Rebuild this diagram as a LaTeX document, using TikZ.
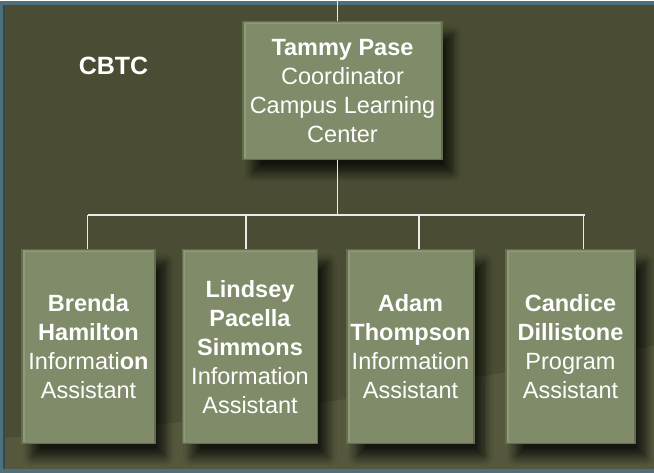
\documentclass[tikz,border=0pt]{standalone}
\usepackage{fontspec}
\setmainfont{Liberation Sans}
\usetikzlibrary{shadows.blur}

\definecolor{frame}{HTML}{4F6F7B}
\definecolor{olive}{HTML}{4A4D33}
\definecolor{olivelow}{HTML}{55583D}
\definecolor{sage}{HTML}{7F8B69}
\definecolor{sageedge}{HTML}{636E4D}
\definecolor{sagelight}{HTML}{909B7A}

\begin{document}
\begin{tikzpicture}[x=1pt, y=1pt,
    card/.style={draw=sageedge, line width=1.2pt, fill=sage, text=white, align=center, inner sep=2pt,
      font=\fontsize{23.5}{29}\selectfont,
      blur shadow={shadow xshift=10pt, shadow yshift=-13pt, shadow blur steps=10, shadow blur radius=9pt, shadow opacity=75},
      path picture={\draw[sagelight, line width=1.4pt] ([shift={(2pt,2pt)}]path picture bounding box.south west) |- ([shift={(-2pt,-2pt)}]path picture bounding box.north east);}},
    wire/.style={draw=white!92!black, line width=1.6pt}]
    % background
    \fill[frame] (0,0) rectangle (654,472);
    \fill[frame!65!black] (3,4) rectangle (5,468);
    \fill[olive] (5,4) rectangle (654,468);
    \fill[olivelow] (5,4) -- (5,35) .. controls (200,45) and (450,90) .. (654,127) -- (654,4) -- cycle;
    % boxes
    \node[font=\bfseries\fontsize{25}{30}\selectfont, text=white] (cbtc) at (113.5,406.5) {CBTC};
    \node[card, minimum width=199pt, minimum height=138pt] (tammy) at (342.5,382) {\textbf{Tammy Pase}\\Coordinator\\Campus Learning\\Center};
    \node[card, minimum width=133pt, minimum height=194pt] (brenda) at (88.5,126) {\textbf{Brenda}\\\textbf{Hamilton}\\Informati\textbf{on}\\Assistant};
    \node[card, minimum width=135pt, minimum height=194pt] (lindsey) at (250,126) {\textbf{Lindsey}\\\textbf{Pacella}\\\textbf{Simmons}\\Information\\Assistant};
    \node[card, minimum width=127pt, minimum height=194pt] (adam) at (410.5,126) {\textbf{Adam}\\\textbf{Thompson}\\Information\\Assistant};
    \node[card, minimum width=129pt, minimum height=194pt] (candice) at (570.5,126) {\textbf{Candice}\\\textbf{Dillistone}\\Program\\Assistant};
    % connectors
    \coordinate (feed) at (337.5,472);
    \coordinate (bus) at (337.5,258);
    \coordinate (busL) at (87.5,258);
    \coordinate (busR) at (584.5,258);
    \draw[wire] (feed) -- (feed |- tammy.north);
    \draw[wire] (tammy.south -| bus) -- (bus);
    \draw[wire] (busL) -- (busR);
    \foreach \x/\n in {87.5/brenda, 246/lindsey, 419/adam, 583.5/candice}
      \draw[wire] (\x,258) -- (\x,0 |- \n.north);
\end{tikzpicture}
\end{document}
